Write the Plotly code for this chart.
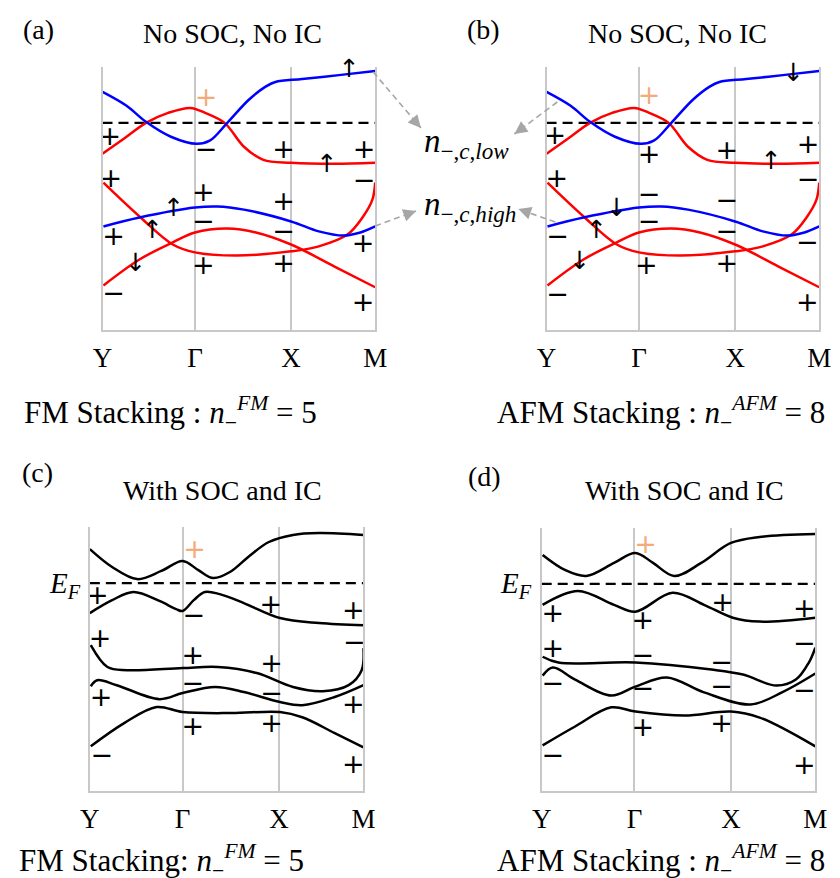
import plotly.graph_objects as go

W, H = 840, 878

# ---------------- axis data ----------------
K_TICKS = [0, 1, 2.04, 2.95]
K_LABELS = ["Y", "Γ", "X", "M"]
E_RANGE = [-7.9, 2.13]
EF = 0.0

# ---------------- panels (a)/(b): no SOC, no IC ----------------
BLUE1_K = [0, 0.26, 0.47, 0.74, 1.02, 1.16, 1.35, 1.58, 1.76, 1.87, 2.16, 2.58, 2.95]
BLUE1_E = [1.18, 0.65, 0.04, -0.53, -0.80, -0.68, 0.0, 0.87, 1.37, 1.56, 1.67, 1.83, 1.98]
RED1_K = [0, 0.23, 0.47, 0.71, 0.95, 1.11, 1.32, 1.53, 1.74, 2.04, 2.51, 2.95]
RED1_E = [-1.18, -0.61, 0.0, 0.38, 0.57, 0.38, 0.0, -0.91, -1.41, -1.52, -1.56, -1.52]
RED2_K = [0.01, 0.40, 0.76, 1.0, 1.45, 2.04, 2.34, 2.65, 2.82, 2.92, 2.95]
RED2_E = [-2.28, -3.57, -4.64, -4.94, -5.06, -4.90, -4.71, -4.26, -3.57, -2.93, -2.28]
RED3_K = [0.01, 0.40, 0.76, 1.0, 1.35, 1.66, 2.04, 2.51, 2.95]
RED3_E = [-6.20, -5.21, -4.56, -4.18, -4.03, -4.18, -4.64, -5.48, -6.27]
BLUE2_K = [0.01, 0.40, 1.0, 1.24, 1.53, 2.04, 2.34, 2.61, 2.79, 2.95]
BLUE2_E = [-3.95, -3.61, -3.23, -3.19, -3.31, -3.76, -4.14, -4.30, -4.18, -3.95]

# parity eigenvalues (a)
PAR_A_K = [0.08, 1.12, 1.96, 2.83, 0.09, 2.83, 1.09, 1.96, 1.09, 0.12, 1.96, 2.82, 1.09, 1.96, 0.12, 2.82]
PAR_A_E = [-0.57, -1.10, -1.10, -1.10, -2.17, -2.28, -2.74, -3.08, -3.84, -4.41, -4.22, -4.68, -5.51, -5.44, -6.58, -6.92]
PAR_A_T = ["+", "−", "+", "+", "+", "−", "+", "+", "−", "+", "−", "+", "+", "+", "−", "+"]
SPIN_A_K = [2.43, 2.67, 0.77, 0.54, 0.36]
SPIN_A_E = [-1.63, 1.98, -3.31, -4.14, -5.40]
SPIN_A_T = ["↑", "↑", "↑", "↑", "↓"]

# parity eigenvalues (b)
PAR_B_K = [0.09, 1.11, 1.95, 2.83, 0.11, 2.83, 1.11, 1.95, 1.11, 0.12, 1.95, 2.82, 1.08, 1.95, 0.12, 2.82]
PAR_B_E = [-0.53, -1.29, -1.14, -0.91, -2.17, -2.21, -2.78, -3.04, -3.84, -4.41, -4.22, -4.64, -5.51, -5.44, -6.62, -6.92]
PAR_B_T = ["+", "+", "+", "+", "+", "−", "−", "−", "−", "−", "−", "−", "+", "+", "−", "+"]
SPIN_B_K = [2.43, 2.67, 0.76, 0.54, 0.36]
SPIN_B_E = [-1.52, 1.83, -3.31, -4.14, -5.32]
SPIN_B_T = ["↑", "↓", "↓", "↑", "↓"]

# highlighted parity at Gamma above E_F
HI_K = [1.12, 1.11, 1.13, 1.12]
HI_E = [0.91, 0.99, 1.22, 1.44]

# ---------------- panel (c): with SOC and IC, FM ----------------
C1_K = [0, 0.24, 0.51, 0.77, 1.0, 1.17, 1.33, 1.51, 1.72, 1.93, 2.19, 2.47, 2.95]
C1_E = [1.29, 0.61, 0.15, 0.46, 0.84, 0.49, 0.19, 0.42, 1.03, 1.56, 1.83, 1.90, 1.83]
C2_K = [0, 0.24, 0.47, 0.75, 0.93, 1.0, 1.12, 1.24, 1.40, 1.66, 2.05, 2.47, 2.95]
C2_E = [-1.14, -0.65, -0.34, -0.68, -0.99, -1.06, -0.65, -0.34, -0.42, -0.76, -1.33, -1.52, -1.60]
C3_K = [0.01, 0.19, 0.40, 1.0, 1.38, 1.80, 2.19, 2.51, 2.79, 2.93, 2.95]
C3_E = [-2.36, -3.19, -3.31, -3.23, -3.19, -3.42, -3.95, -4.11, -3.88, -3.31, -2.47]
C4_K = [0.01, 0.08, 0.29, 0.75, 1.0, 1.35, 1.66, 2.05, 2.29, 2.64, 2.95]
C4_E = [-3.92, -3.69, -3.88, -4.41, -4.18, -3.95, -4.14, -4.52, -4.64, -4.33, -3.88]
C5_K = [0.01, 0.37, 0.72, 1.0, 1.53, 2.05, 2.29, 2.64, 2.95]
C5_E = [-6.20, -5.32, -4.71, -4.90, -4.94, -4.90, -5.10, -5.70, -6.24]
PAR_C_K = [0.08, 1.12, 1.95, 2.84, 0.11, 2.85, 1.11, 1.96, 1.11, 0.12, 1.96, 2.84, 1.11, 1.96, 0.13, 2.84]
PAR_C_E = [-0.53, -1.29, -0.87, -1.10, -2.17, -2.32, -2.81, -3.12, -3.88, -4.41, -4.26, -4.68, -5.51, -5.40, -6.62, -6.96]
PAR_C_T = ["+", "−", "+", "+", "+", "−", "+", "+", "−", "+", "−", "+", "+", "+", "−", "+"]

# ---------------- panel (d): with SOC and IC, AFM ----------------
D1_K = [0.01, 0.25, 0.48, 0.78, 1.01, 1.20, 1.43, 1.72, 2.04, 2.35, 2.95]
D1_E = [1.10, 0.53, 0.30, 0.80, 1.18, 0.80, 0.30, 0.80, 1.56, 1.79, 1.90]
D2_K = [0.01, 0.39, 0.78, 1.01, 1.41, 1.75, 2.06, 2.35, 2.95]
D2_E = [-0.80, -0.27, -0.80, -1.06, -0.34, -0.80, -1.29, -1.44, -1.29]
D3_K = [0.01, 0.18, 1.01, 1.83, 2.17, 2.53, 2.74, 2.88, 2.95]
D3_E = [-2.78, -3.00, -3.00, -3.27, -3.46, -3.88, -3.65, -3.00, -2.43]
D4_K = [0.01, 0.12, 0.36, 0.75, 1.01, 1.35, 1.75, 2.25, 2.59, 2.95]
D4_E = [-3.50, -3.19, -3.65, -4.26, -3.92, -3.57, -4.14, -4.60, -4.14, -3.42]
D5_K = [0.01, 0.36, 0.75, 1.01, 1.54, 2.04, 2.35, 2.95]
D5_E = [-6.16, -5.44, -4.71, -4.87, -5.02, -4.87, -5.10, -6.20]
PAR_D_K = [0.12, 1.09, 1.95, 2.83, 0.12, 1.09, 2.83, 1.94, 0.12, 1.09, 1.94, 2.83, 1.09, 1.94, 0.12, 2.83]
PAR_D_E = [-1.18, -1.48, -0.76, -0.99, -2.55, -2.78, -2.36, -3.08, -3.88, -4.07, -3.99, -4.14, -5.55, -5.40, -6.62, -7.00]
PAR_D_T = ["+", "+", "+", "+", "+", "−", "−", "−", "−", "−", "−", "−", "+", "+", "−", "+"]

# ---------------- styling ----------------
RED, BLUE, BLACK = "#ff0000", "#0000ff", "#000000"
ORANGE = "#f4ab7c"
GRID = "#c8c8c8"
SERIF = "Liberation Serif"
SIGN_FONT = dict(family="DejaVu Sans", size=27, color="black")
SPIN_FONT = dict(family="DejaVu Sans", size=25, color="black")
LW = 2.5

# panel placement in pixels: left, right, top, bottom
PANELS = {
    "a": (95, 375, 67, 330),
    "b": (551, 831, 67, 330),
    "c": (82, 363, 527, 791),
    "d": (546, 827, 528, 791),
}
AXES = {"a": ("x", "y"), "b": ("x2", "y2"), "c": ("x3", "y3"), "d": ("x4", "y4")}

fig = go.Figure()


def band(panel, k, e, color):
    xa, ya = AXES[panel]
    fig.add_trace(go.Scatter(x=k, y=e, mode="lines", xaxis=xa, yaxis=ya, hoverinfo="skip",
                             line=dict(color=color, width=LW, shape="spline", smoothing=1.0)))


def fermi(panel):
    xa, ya = AXES[panel]
    fig.add_trace(go.Scatter(x=[K_TICKS[0], K_TICKS[-1]], y=[EF, EF], mode="lines", xaxis=xa, yaxis=ya,
                             hoverinfo="skip", line=dict(color="black", width=2.3, dash="10px,6px")))


def labels(panel, k, e, t, font):
    xa, ya = AXES[panel]
    fig.add_trace(go.Scatter(x=k, y=e, text=t, mode="text", xaxis=xa, yaxis=ya, hoverinfo="skip",
                             textposition="middle center", textfont=font, cliponaxis=False))


for p in ("a", "b"):
    fermi(p)
    band(p, RED1_K, RED1_E, RED)
    band(p, RED2_K, RED2_E, RED)
    band(p, RED3_K, RED3_E, RED)
    band(p, BLUE1_K, BLUE1_E, BLUE)
    band(p, BLUE2_K, BLUE2_E, BLUE)

fermi("c")
for k, e in [(C1_K, C1_E), (C2_K, C2_E), (C3_K, C3_E), (C4_K, C4_E), (C5_K, C5_E)]:
    band("c", k, e, BLACK)
fermi("d")
for k, e in [(D1_K, D1_E), (D2_K, D2_E), (D3_K, D3_E), (D4_K, D4_E), (D5_K, D5_E)]:
    band("d", k, e, BLACK)

labels("a", PAR_A_K, PAR_A_E, PAR_A_T, SIGN_FONT)
labels("a", SPIN_A_K, SPIN_A_E, SPIN_A_T, SPIN_FONT)
labels("b", PAR_B_K, PAR_B_E, PAR_B_T, SIGN_FONT)
labels("b", SPIN_B_K, SPIN_B_E, SPIN_B_T, SPIN_FONT)
labels("c", PAR_C_K, PAR_C_E, PAR_C_T, SIGN_FONT)
labels("d", PAR_D_K, PAR_D_E, PAR_D_T, SIGN_FONT)
for i, p in enumerate(("a", "b", "c", "d")):
    labels(p, [HI_K[i]], [HI_E[i]], ["+"], dict(SIGN_FONT, color=ORANGE))

layout = dict(width=W, height=H, margin=dict(l=0, r=0, t=0, b=0), showlegend=False,
              paper_bgcolor="white", plot_bgcolor="white")

for p, (l, r, t, b) in PANELS.items():
    xa, ya = AXES[p]
    xkey = "xaxis" + xa[1:]
    ykey = "yaxis" + ya[1:]
    layout[xkey] = dict(domain=[l / W, r / W], range=[K_TICKS[0], K_TICKS[-1]], anchor=ya,
                        tickvals=K_TICKS, ticktext=K_LABELS, showgrid=True, gridcolor=GRID, gridwidth=1.5,
                        zeroline=False, showline=True, linecolor=GRID, linewidth=1.5, ticks="",
                        ticklabelstandoff=3, tickfont=dict(family=SERIF, size=27, color="black"),
                        fixedrange=True)
    layout[ykey] = dict(domain=[1 - b / H, 1 - t / H], range=E_RANGE, anchor=xa, showgrid=False,
                        zeroline=False, showline=True, mirror=True, linecolor=GRID, linewidth=1.5,
                        showticklabels=False, ticks="", fixedrange=True)


def px(x, y):
    return x / W, 1 - y / H


annotations = []


def text(x, y, s, size, xanchor="center", family=SERIF):
    X, Y = px(x, y)
    annotations.append(dict(x=X, y=Y, xref="paper", yref="paper", text=s, showarrow=False,
                            xanchor=xanchor, yanchor="middle",
                            font=dict(family=family, size=size, color="black")))


text(29, 30, "(a)", 28)
text(228, 33, "No SOC, No IC", 28)
text(486, 30, "(b)", 28)
text(685, 33, "No SOC, No IC", 28)
text(28, 473, "(c)", 28)
text(218, 490, "With SOC and IC", 28)
text(487, 476, "(d)", 28)
text(693, 490, "With SOC and IC", 28)

text(12, 413, "FM Stacking : <i>n</i><sub>−</sub><sup><i>FM</i></sup> = 5", 31, "left")
text(498, 413, "AFM Stacking : <i>n</i><sub>−</sub><sup><i>AFM</i></sup> = 8", 31, "left")
text(7, 861, "FM Stacking: <i>n</i><sub>−</sub><sup><i>FM</i></sup> = 5", 31, "left")
text(498, 861, "AFM Stacking : <i>n</i><sub>−</sub><sup><i>AFM</i></sup> = 8", 31, "left")

text(56, 585, "<i>E</i><sub><i>F</i></sub>", 29)
text(520, 585, "<i>E</i><sub><i>F</i></sub>", 29)
text(469, 143, "<i>n</i><sub>−,<i>c</i>,<i>low</i></sub>", 33)
text(472, 206, "<i>n</i><sub>−,<i>c</i>,<i>high</i></sub>", 33)

# gray dashed pointer arrows
ARROWS = [((373, 72), (422, 128)), ((375, 226), (417, 211)),
          ((562, 102), (518, 134)), ((560, 222), (522, 209))]
shapes = []
for (x0, y0), (x1, y1) in ARROWS:
    X0, Y0 = px(x0, y0)
    X1, Y1 = px(x1, y1)
    shapes.append(dict(type="line", xref="paper", yref="paper", x0=X0, y0=Y0, x1=X1, y1=Y1,
                       line=dict(color="#a6a6a6", width=1.6, dash="6px,4px")))
    dx, dy = x1 - x0, y1 - y0
    n = (dx * dx + dy * dy) ** 0.5
    annotations.append(dict(x=X1, y=Y1, xref="paper", yref="paper", text="", showarrow=True,
                            ax=-dx / n * 9, ay=-dy / n * 9, axref="pixel", ayref="pixel",
                            arrowhead=2, arrowsize=1.6, arrowwidth=1.6, arrowcolor="#a6a6a6"))

layout["annotations"] = annotations
layout["shapes"] = shapes
fig.update_layout(**layout)
fig.write_html("out.html", config={"displayModeBar": False},
               post_script="document.body.style.margin='0';document.body.style.overflow='hidden';")
